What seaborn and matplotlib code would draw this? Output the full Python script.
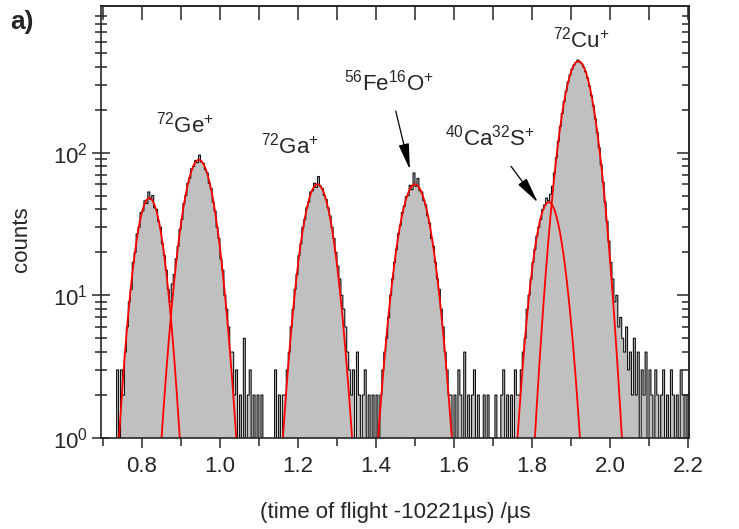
import numpy as np
import pandas as pd
import matplotlib
matplotlib.use("Agg")
import matplotlib.pyplot as plt
import seaborn as sns
from matplotlib.ticker import FixedLocator, MultipleLocator, LogLocator, NullFormatter

# ---------------- data ----------------
bin_start = 0.700
bin_width = 0.005
counts = [
    0, 0, 0, 0, 0, 0, 0, 3, 1, 3,
    2, 4, 6, 9, 11, 17, 20, 27, 30, 38,
    39, 46, 44, 53, 47, 50, 41, 40, 33, 30,
    23, 19, 15, 11, 9, 12, 14, 18, 22, 29,
    34, 44, 50, 61, 66, 77, 80, 88, 85, 96,
    86, 84, 76, 72, 61, 56, 45, 39, 30, 25,
    18, 15, 10, 8, 6, 4, 4, 2, 3, 0,
    2, 0, 5, 0, 2, 3, 0, 2, 0, 2,
    0, 2, 0, 0, 0, 0, 0, 0, 3, 0,
    2, 0, 2, 2, 3, 4, 6, 8, 11, 14,
    19, 23, 30, 34, 41, 45, 53, 54, 61, 57,
    68, 58, 56, 50, 47, 41, 36, 30, 25, 20,
    16, 13, 10, 8, 6, 4, 3, 2, 3, 0,
    4, 2, 0, 2, 3, 0, 2, 0, 2, 0,
    2, 1, 2, 3, 4, 5, 7, 10, 13, 17,
    21, 27, 31, 38, 42, 49, 50, 59, 55, 72,
    58, 66, 54, 53, 46, 43, 36, 32, 25, 22,
    17, 13, 11, 8, 6, 4, 3, 2, 2, 0,
    2, 0, 3, 2, 0, 4, 0, 2, 0, 2,
    3, 0, 2, 0, 0, 2, 0, 2, 0, 1,
    0, 2, 0, 0, 2, 3, 0, 2, 0, 2,
    0, 3, 2, 2, 3, 4, 5, 8, 10, 13,
    17, 21, 26, 30, 34, 40, 43, 48, 46, 51,
    58, 72, 92, 120, 152, 188, 228, 270, 312, 350,
    384, 410, 428, 445, 432, 420, 398, 368, 333, 292,
    250, 212, 172, 138, 108, 82, 62, 45, 33, 24,
    17, 13, 9, 10, 6, 7, 5, 4, 6, 3,
    4, 2, 5, 2, 4, 0, 3, 2, 4, 0,
    3, 2, 0, 3, 2, 0, 2, 3, 0, 2,
    0, 3, 2, 0, 2, 0, 3, 2, 0, 2,
]

# Gaussian fit parameters
fit_centers = [0.819, 0.946, 1.250, 1.500, 1.843, 1.919]
fit_amplitudes = [48, 89, 60, 60, 45, 437]
fit_sigmas = [0.028, 0.032, 0.031, 0.033, 0.029, 0.032]

x_ticks = [0.8, 1.0, 1.2, 1.4, 1.6, 1.8, 2.0, 2.2]
y_ticks = [1, 10, 100]

# ---------------- style ----------------
sns.set_style("ticks")
plt.rcParams["font.family"] = ["Liberation Sans", "DejaVu Sans"]
plt.rcParams["mathtext.fontset"] = "custom"
plt.rcParams["mathtext.rm"] = "Liberation Sans"
plt.rcParams["mathtext.it"] = "Liberation Sans:italic"
plt.rcParams["mathtext.bf"] = "Liberation Sans:bold"
plt.rcParams["axes.linewidth"] = 1.2

fig = plt.figure(figsize=(7.39, 5.29), dpi=100)
ax = fig.add_axes([0.1367, 0.172, 0.7956, 0.8167])

counts_arr = np.array(counts, dtype=float)
edges = bin_start + bin_width * np.arange(len(counts_arr) + 1)
centers = edges[:-1] + bin_width / 2
hist_df = pd.DataFrame({"t": centers, "n": counts_arr})

sns.histplot(data=hist_df, x="t", weights="n", bins=list(edges), element="step",
             fill=True, color="#c0c0c0", edgecolor="#111111", linewidth=0.8,
             alpha=1.0, ax=ax)
ax.set_yscale("log")

for c, a, s in zip(fit_centers, fit_amplitudes, fit_sigmas):
    xs = np.linspace(c - 4.0 * s, c + 4.0 * s, 300)
    ys = a * np.exp(-0.5 * ((xs - c) / s) ** 2)
    keep = ys >= 0.7
    sns.lineplot(x=xs[keep], y=ys[keep], color="red", linewidth=1.3, ax=ax)

ax.set_xlim(0.695, 2.2025)
ax.set_ylim(1, 1065)

# bottom / left ticks
ax.xaxis.set_major_locator(FixedLocator(x_ticks))
ax.set_xticklabels([f"{v:.1f}" for v in x_ticks])
ax.xaxis.set_minor_locator(MultipleLocator(0.1))
ax.yaxis.set_major_locator(FixedLocator(y_ticks))
ax.yaxis.set_minor_locator(LogLocator(base=10, subs=np.arange(2, 10)))
ax.yaxis.set_minor_formatter(NullFormatter())
ax.tick_params(axis="x", which="major", direction="out", length=7, width=1.1,
               labelsize=16, pad=6, top=False)
ax.tick_params(axis="x", which="minor", direction="out", length=6, width=1.1, top=False)
ax.tick_params(axis="y", which="major", direction="inout", length=13, width=1.1,
               labelsize=16, pad=3, right=False)
ax.tick_params(axis="y", which="minor", direction="inout", length=8, width=1.1, right=False)

# top / right mirror ticks (inward)
top = ax.secondary_xaxis("top")
top.xaxis.set_major_locator(MultipleLocator(0.1))
top.tick_params(axis="x", which="major", direction="in", length=10, width=1.1, labeltop=False)
right = ax.secondary_yaxis("right")
right.yaxis.set_major_locator(FixedLocator(y_ticks))
right.yaxis.set_minor_locator(LogLocator(base=10, subs=np.arange(2, 10)))
right.yaxis.set_minor_formatter(NullFormatter())
right.tick_params(axis="y", which="major", direction="in", length=9, width=1.1, labelright=False)
right.tick_params(axis="y", which="minor", direction="in", length=5, width=1.1, labelright=False)
for sp in ax.spines.values():
    sp.set_visible(True)
    sp.set_linewidth(1.2)

ax.set_xlabel("(time of flight -10221\u00b5s) /\u00b5s", fontsize=16, labelpad=18)
ax.set_ylabel("counts", fontsize=16)
ax.yaxis.set_label_coords(-0.117, 0.46)

# peak labels
fs = 16
ax.text(0.910, 157, r"$^{72}$Ge$^{+}$", fontsize=fs, ha="center", va="center")
ax.text(1.1795, 112, r"$^{72}$Ga$^{+}$", fontsize=fs, ha="center", va="center")
ax.text(1.926, 619, r"$^{72}$Cu$^{+}$", fontsize=fs, ha="center", va="center")
arrow = dict(arrowstyle="-|>,head_length=1.0,head_width=0.2", color="black",
             lw=0.9, shrinkA=0, shrinkB=0)
ax.annotate(r"$^{56}$Fe$^{16}$O$^{+}$", xy=(1.487, 76), xytext=(1.433, 309),
            fontsize=fs, ha="center", va="center", arrowprops=dict(arrow, shrinkA=9))
ax.annotate(r"$^{40}$Ca$^{32}$S$^{+}$", xy=(1.815, 44.7), xytext=(1.692, 127),
            fontsize=fs, ha="center", va="center", arrowprops=dict(arrow, shrinkA=11))

fig.text(0.0135, 0.958, "a)", fontsize=19, fontweight="bold", ha="left", va="center")

fig.savefig("out.png", dpi=100)
